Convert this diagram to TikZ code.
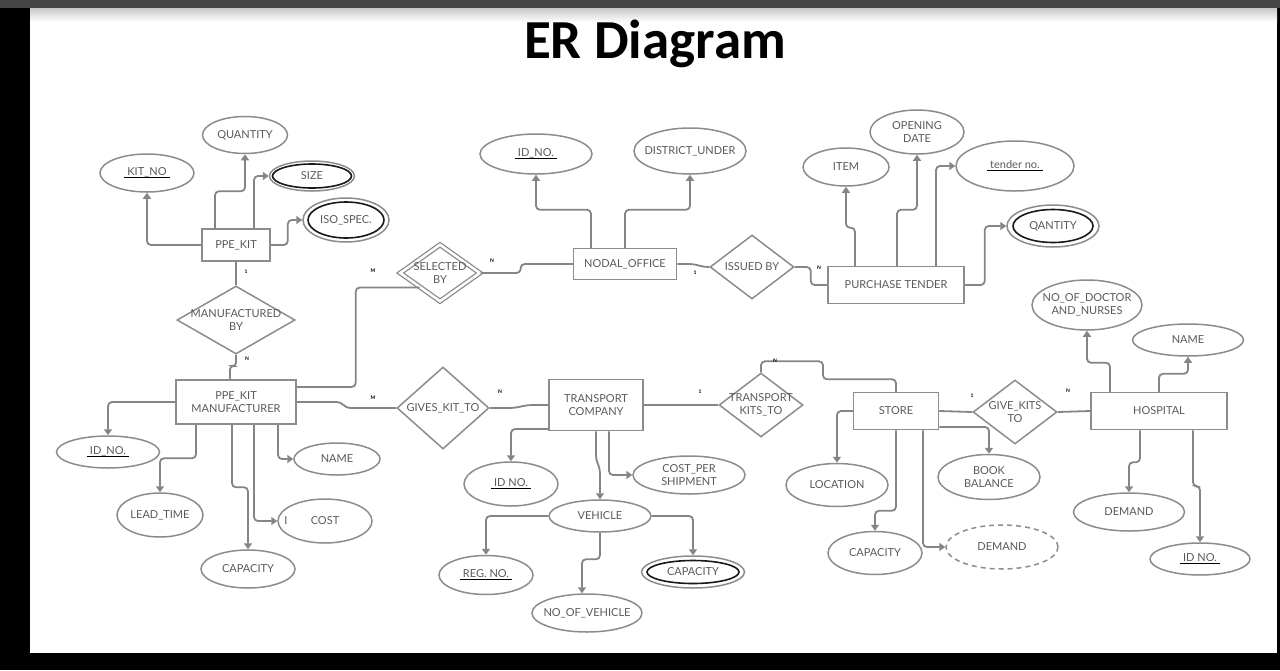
\documentclass[tikz,border=0pt]{standalone}
\usepackage{fontspec}
\usetikzlibrary{shapes.geometric,arrows.meta,calc}
\newfontfamily\lato{Lato}
\newfontfamily\titlefont{Carlito}
\definecolor{linegray}{HTML}{858585}
\definecolor{shapegray}{HTML}{8C8C8C}
\definecolor{txtgray}{HTML}{5A5A5A}
\definecolor{topbar}{HTML}{454545}
\newcommand{\keyattr}[1]{\setbox0\hbox{#1}\rlap{\kern-3pt\textcolor{black}{\rule[-2.5pt]{\dimexpr\wd0+6pt\relax}{1.6pt}}}#1}
\tikzset{
  entity/.style={draw=shapegray, line width=1.5pt, fill=white, align=center, inner sep=0pt},
  attr/.style={ellipse, draw=shapegray, line width=1.5pt, fill=white, inner sep=0pt},
  rel/.style={diamond, draw=shapegray, line width=1.5pt, fill=white, inner sep=0pt},
  ring/.style={draw=black!90, line width=1.6pt},
  link/.style={draw=linegray, line width=1.8pt, rounded corners=4pt},
  to attr/.style={link, -{Triangle[length=6pt,width=8pt]}},
  card/.style={font=\lato\fontsize{5}{5}\selectfont\bfseries, text=black, inner sep=0pt},
  every label/.style={align=center, inner sep=0pt}
}
\begin{document}
\begin{tikzpicture}[x=1pt, y=-1pt, font=\lato\fontsize{11}{12.5}\selectfont, text=txtgray]
  % frame
  \fill[black] (0,0) rectangle (1280,670);
  \fill[topbar] (0,0) rectangle (1280,8);
  \fill[white] (30,8) rectangle (1277,653);
  \shade[top color=black!22, bottom color=white] (30,8) rectangle (1277,22);
  \node[anchor=base, font=\titlefont\bfseries\fontsize{55}{60}\selectfont, text=black] (title) at (655,58) {ER Diagram};

  % entities
  \node[entity, minimum width=68, minimum height=32] (kit) at (236,245) {PPE\_KIT};
  \node[entity, minimum width=120, minimum height=44] (manuf) at (236,402) {PPE\_KIT\\MANUFACTURER};
  \node[entity, minimum width=103, minimum height=31] (nodal) at (625,264) {NODAL\_OFFICE};
  \node[entity, minimum width=136, minimum height=37] (tender) at (896,285) {PURCHASE TENDER};
  \node[entity, minimum width=94, minimum height=51] (trans) at (596,405) {TRANSPORT\\COMPANY};
  \node[entity, minimum width=85, minimum height=37] (store) at (896,411) {STORE};
  \node[entity, minimum width=136, minimum height=37] (hosp) at (1159,411) {HOSPITAL};

  % relationships
  \node[rel, minimum width=118, minimum height=68, label={center:MANUFACTURED\\BY}] (mfdby) at (236,320) {};
  \node[rel, minimum width=80, minimum height=57, double=white, double distance=2.5pt, line width=1.3pt, label={center:SELECTED\\BY}] (selby) at (440,273) {};
  \node[rel, minimum width=84, minimum height=64, label={center:ISSUED BY}] (issby) at (752,267) {};
  \node[rel, minimum width=92, minimum height=82, label={center:GIVES\_KIT\_TO}] (gives) at (443,408) {};
  \node[rel, minimum width=84, minimum height=64, label={center:TRANSPORT\\KITS\_TO}] (tkt) at (761,405) {};
  \node[rel, minimum width=84, minimum height=64, label={center:GIVE\_KITS\\TO}] (gkt) at (1015,412) {};

  % attributes
  \node[attr, minimum width=94, minimum height=38, label={center:\keyattr{KIT\_NO}}] (kitno) at (147,173) {};
  \node[attr, minimum width=85, minimum height=37, label={center:QUANTITY}] (qty) at (245,135) {};
  \node[attr, minimum width=85, minimum height=30, label={center:SIZE}] (size) at (312,176) {};
  \node[attr, minimum width=86, minimum height=44, label={center:ISO\_SPEC.}] (iso) at (346,220) {};
  \node[attr, minimum width=112, minimum height=40, label={center:\keyattr{ID\_NO.}}] (nid) at (536,154) {};
  \node[attr, minimum width=112, minimum height=46, label={center:DISTRICT\_UNDER}] (dist) at (690,151) {};
  \node[attr, minimum width=86, minimum height=38, label={center:ITEM}] (item) at (846,167) {};
  \node[attr, minimum width=94, minimum height=44, label={center:OPENING\\DATE}] (open) at (917,132) {};
  \node[attr, minimum width=118, minimum height=50, label={center:\keyattr{tender no.}}] (tno) at (1015,166) {};
  \node[attr, minimum width=92, minimum height=42, label={center:QANTITY}] (tqty) at (1053,226) {};
  \node[attr, minimum width=110, minimum height=50, label={center:NO\_OF\_DOCTOR\\AND\_NURSES}] (docs) at (1087,305) {};
  \node[attr, minimum width=111, minimum height=32, label={center:NAME}] (hname) at (1188,340) {};
  \node[attr, minimum width=111, minimum height=38, label={center:DEMAND}] (hdem) at (1129,512) {};
  \node[attr, minimum width=100, minimum height=32, label={center:\keyattr{ID NO.}}] (hid) at (1200,559) {};
  \node[attr, minimum width=102, minimum height=43, label={center:LOCATION}] (loc) at (837,485) {};
  \node[attr, minimum width=94, minimum height=43, label={center:CAPACITY}] (scap) at (875,553) {};
  \node[attr, minimum width=112, minimum height=44, dashed, dash pattern=on 5pt off 4pt, label={center:DEMAND}] (sdem) at (1002,547) {};
  \node[attr, minimum width=102, minimum height=45, label={center:BOOK\\BALANCE}] (book) at (989,477) {};
  \node[attr, minimum width=103, minimum height=32, label={center:\keyattr{ID\_NO.}}] (mid) at (108,452) {};
  \node[attr, minimum width=86, minimum height=44, label={center:LEAD\_TIME}] (lead) at (160,515) {};
  \node[attr, minimum width=94, minimum height=38, label={center:CAPACITY}] (mcap) at (248,569) {};
  \node[attr, minimum width=94, minimum height=44, label={center:COST}, label={[xshift=-39pt]center:I}] (cost) at (325,521) {};
  \node[attr, minimum width=86, minimum height=32, label={center:NAME}] (mname) at (337,459) {};
  \node[attr, minimum width=94, minimum height=44, label={center:\keyattr{ID NO.}}] (tid) at (511,484) {};
  \node[attr, minimum width=102, minimum height=32, label={center:VEHICLE}] (veh) at (600,516) {};
  \node[attr, minimum width=112, minimum height=38, label={center:COST\_PER\\SHIPMENT}] (cps) at (689,475) {};
  \node[attr, minimum width=94, minimum height=39, label={center:\keyattr{REG. NO.}}] (reg) at (486,575) {};
  \node[attr, minimum width=110, minimum height=38, label={center:NO\_OF\_VEHICLE}] (nveh) at (587,613) {};
  \node[attr, minimum width=103, minimum height=32, label={center:CAPACITY}] (vcap) at (693,572) {};

  % inner rings of the multivalued attributes
  \draw[ring] (size.center) ellipse [x radius=39.5, y radius=12];
  \draw[ring] (iso.center) ellipse [x radius=38, y radius=18];
  \draw[ring] (tqty.center) ellipse [x radius=40, y radius=16.5];
  \draw[ring] (vcap.center) ellipse [x radius=46, y radius=11.5];

  % PPE_KIT
  \draw[to attr] (kit.west) -| (kitno.south);
  \draw[to attr] ([xshift=-21]kit.north) |- ([yshift=-37]qty.south) -- (qty.south);
  \draw[to attr] ([xshift=18]kit.north) |- (size.west);
  \draw[to attr] (kit.east) -- ++(17,0) |- (iso.west);
  \draw[link] (kit.south) -- (mfdby.north);
  \draw[link] (mfdby.south) -- ++(0,12) -- ([xshift=-6,yshift=14]manuf.north) -- ([xshift=-6]manuf.north);

  % NODAL_OFFICE
  \draw[link] ($(selby.west)!.5!(selby.south)$) -- ++(-64,0) |- ([yshift=15]manuf.east);
  \draw[link] (selby.east) -- ++(40,0) |- (nodal.west);
  \draw[to attr] ([xshift=-34]nodal.north) |- ([yshift=-35]nid.south) -- (nid.south);
  \draw[to attr] (nodal.north) |- ([yshift=-35]dist.south) -- (dist.south);
  \draw[link] (nodal.east) -- ++(16,0) -- ([xshift=-5]issby.west) -- (issby.west);
  \draw[link] (issby.east) -- ++(16,0) |- (tender.west);

  % PURCHASE TENDER
  \draw[to attr] ([xshift=-41]tender.north) |- ([yshift=-41]item.south) -- (item.south);
  \draw[to attr] ([xshift=1]tender.north) |- ([yshift=-55]open.south) -- (open.south);
  \draw[to attr] ([xshift=40]tender.north) |- (tno.west);
  \draw[to attr] (tender.east) -- ++(20,0) |- (tqty.west);

  % HOSPITAL
  \draw[to attr] ([xshift=-49]hosp.north) |- ([yshift=-32]docs.south) -- (docs.south);
  \draw[to attr] (hosp.north) |- ([yshift=-17]hname.south) -- (hname.south);
  \draw[to attr] ([xshift=-19]hosp.south) |- ([yshift=30]hdem.north) -- (hdem.north);
  \draw[to attr] ([xshift=34]hosp.south) |- ([yshift=56]hid.north) -- (hid.north);
  \draw[link] (store.east) -- (gkt.west);
  \draw[link] (gkt.east) -- (hosp.west);

  % STORE
  \draw[to attr] (store.west) -| (loc.north);
  \draw[to attr] (store.south) |- ([yshift=20]scap.north) -- (scap.north);
  \draw[to attr] ([xshift=27]store.south) |- (sdem.west);
  \draw[to attr] ([yshift=-16]store.east) -| (book.north);
  \draw[link] (tkt.north) -- ++(0,-11) -- ++(62,0) -- ++(0,18) -| (store.north);

  % TRANSPORT COMPANY
  \draw[link] (trans.east) -- (tkt.west);
  \draw[link] (gives.east) -- ++(24,0) -- ([xshift=-20]trans.west) -- (trans.west);
  \draw[link] (manuf.east) -- ++(44,0) -- ([xshift=-50]gives.west) -- (gives.west);
  \draw[to attr] ([yshift=-24]trans.west) -| (tid.north);
  \draw[to attr] (trans.south) -- ++(0,28) -- ([yshift=30]veh.north) -- (veh.north);
  \draw[to attr] ([xshift=13]trans.south) |- (cps.west);
  \draw[to attr] (veh.west) -| (reg.north);
  \draw[to attr] (veh.south) |- ([xshift=-5,yshift=34]nveh.north) -- ([xshift=-5]nveh.north);
  \draw[to attr] (veh.east) -| (vcap.north);

  % PPE_KIT MANUFACTURER
  \draw[to attr] (manuf.west) -| (mid.north);
  \draw[to attr] ([xshift=-40]manuf.south) |- ([yshift=34]lead.north) -- (lead.north);
  \draw[to attr] ([xshift=-4]manuf.south) |- ([yshift=62]mcap.north) -- (mcap.north);
  \draw[to attr] ([xshift=18]manuf.south) |- (cost.west);
  \draw[to attr] ([xshift=42]manuf.south) |- (mname.west);

  % cardinalities
  \foreach \t/\x/\y [count=\i] in {1/246/272, N/247/359, M/373/271, N/492/261,
      1/695/273, N/819/268, M/373/398, N/500/392, 1/700/392, N/775/361,
      1/972/396, N/1068/391}
    \node[card] (card\i) at (\x,\y) {\t};
\end{tikzpicture}
\end{document}
